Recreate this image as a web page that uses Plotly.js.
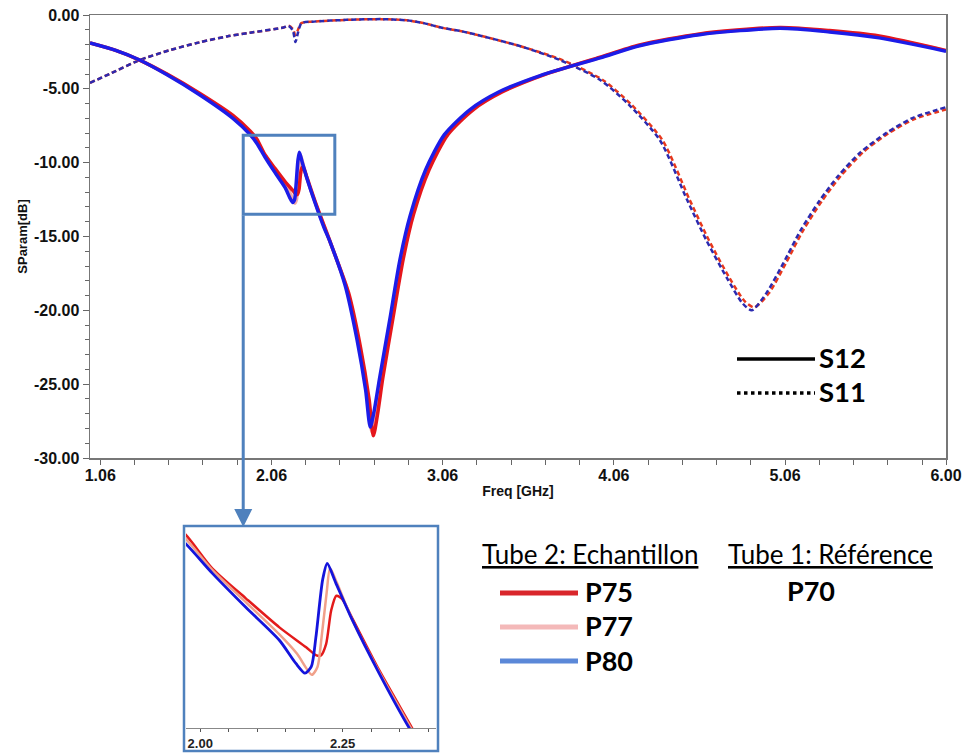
<!DOCTYPE html>
<html><head><meta charset="utf-8">
<script src="https://cdn.plot.ly/plotly-3.0.1.min.js"></script>
<style>html,body{margin:0;padding:0;background:#fff;} #chart{width:964px;height:753px;}</style>
</head><body><div id="chart"></div>
<script>
// ---- S12 (transmission), solid ----
var s12FreqP80 = [1.00,1.15,1.29,1.45,1.64,1.835,1.935,1.974,2.021,2.08,2.139,2.168,2.184,2.195,2.203,2.215,2.223,2.238,2.267,2.314,2.367,2.40,2.49,2.56,2.61,2.637,2.66,2.69,2.75,2.81,2.87,2.96,3.07,3.22,3.39,3.63,3.98,4.21,4.56,5.03,5.32,5.61,6.00];
var s12DbP80   = [-1.90,-2.40,-3.05,-4.05,-5.40,-7.00,-8.10,-8.68,-9.60,-10.66,-11.68,-12.40,-12.70,-12.50,-11.60,-9.80,-9.30,-9.90,-11.05,-12.70,-14.40,-15.30,-18.30,-22.00,-25.40,-27.90,-26.80,-24.70,-20.70,-16.60,-13.60,-10.50,-8.10,-6.40,-5.20,-4.10,-2.90,-2.08,-1.33,-0.90,-1.15,-1.55,-2.45];

var s12FreqP75 = [1.00,1.15,1.29,1.45,1.64,1.835,1.935,1.974,2.021,2.08,2.139,2.186,2.204,2.212,2.221,2.23,2.239,2.249,2.267,2.314,2.372,2.42,2.51,2.58,2.63,2.655,2.68,2.71,2.77,2.83,2.89,2.98,3.09,3.24,3.41,3.65,3.98,4.21,4.56,5.03,5.32,5.61,6.00];
var s12DbP75   = [-1.90,-2.40,-3.05,-4.00,-5.30,-6.80,-7.85,-8.40,-9.45,-10.38,-11.28,-11.90,-12.15,-12.15,-11.80,-10.75,-10.30,-10.40,-11.00,-12.60,-14.40,-15.90,-18.80,-22.50,-26.00,-28.50,-27.00,-24.60,-20.50,-16.50,-13.50,-10.50,-8.10,-6.40,-5.20,-4.05,-2.85,-2.03,-1.28,-0.84,-1.05,-1.42,-2.40];

var s12FreqP77 = [1.00,1.15,1.29,1.45,1.64,1.835,1.935,1.974,2.021,2.08,2.139,2.17,2.196,2.206,2.213,2.222,2.228,2.24,2.267,2.314,2.37,2.41,2.50,2.57,2.62,2.646,2.67,2.70,2.76,2.82,2.88,2.97,3.08,3.23,3.40,3.64,3.98,4.21,4.56,5.03,5.32,5.61,6.00];
var s12DbP77   = [-1.90,-2.40,-3.05,-4.02,-5.35,-6.90,-7.98,-8.53,-9.50,-10.50,-11.50,-12.10,-12.75,-12.50,-11.60,-10.20,-9.45,-9.90,-11.05,-12.65,-14.40,-15.60,-18.50,-22.20,-25.70,-28.20,-26.90,-24.60,-20.60,-16.50,-13.50,-10.50,-8.10,-6.40,-5.20,-4.08,-2.88,-2.06,-1.30,-0.87,-1.10,-1.48,-2.42];

// ---- S11 (reflection), dashed ----
var s11FreqP80 = [1.00,1.15,1.29,1.47,1.64,1.80,1.935,2.13,2.16,2.185,2.20,2.215,2.235,2.30,2.50,2.70,2.85,2.95,3.05,3.17,3.28,3.51,3.745,3.98,4.15,4.33,4.487,4.60,4.72,4.81,4.865,4.95,5.05,5.15,5.26,5.37,5.50,5.65,5.80,6.00];
var s11DbP80   = [-4.60,-3.80,-3.05,-2.37,-1.85,-1.45,-1.20,-0.85,-0.74,-1.05,-1.83,-1.20,-0.55,-0.45,-0.33,-0.28,-0.36,-0.55,-0.85,-1.10,-1.40,-2.10,-3.05,-4.40,-6.10,-8.50,-12.50,-15.25,-17.80,-19.50,-20.00,-18.85,-16.80,-14.60,-12.60,-10.90,-9.30,-8.00,-7.00,-6.24];

var s11FreqP75 = [1.00,1.15,1.29,1.47,1.64,1.80,1.935,2.13,2.16,2.185,2.20,2.215,2.235,2.30,2.50,2.70,2.85,2.95,3.05,3.17,3.28,3.51,3.76,3.995,4.165,4.345,4.502,4.615,4.735,4.825,4.88,4.965,5.065,5.165,5.275,5.385,5.515,5.665,5.815,6.00];
var s11DbP75   = [-4.60,-3.80,-3.05,-2.37,-1.85,-1.45,-1.20,-0.85,-0.72,-0.95,-1.36,-1.00,-0.55,-0.45,-0.33,-0.28,-0.36,-0.55,-0.85,-1.10,-1.40,-2.10,-3.05,-4.40,-6.10,-8.50,-12.50,-15.25,-17.80,-19.40,-19.80,-18.85,-16.80,-14.60,-12.60,-10.90,-9.30,-8.00,-7.05,-6.40];

// ---- axis ticks / zoom window ----
var xTickVals = [1.06,2.06,3.06,4.06,5.06,6.00];
var xTickText = ["1.06","2.06","3.06","4.06","5.06","6.00"];
var yTickVals = [0,-5,-10,-15,-20,-25,-30];
var yTickText = ["0.00","-5.00","-10.00","-15.00","-20.00","-25.00","-30.00"];
var insetTickVals = [2.00,2.25];
var insetTickText = ["2.00","2.25"];
var zoomBoxFreq = [1.895,2.43];
var zoomBoxDb = [-13.5,-8.14];
var insetRangeFreq = [1.975,2.414];
var insetRangeDb = [-14.4,-8.2];

var W = 964, H = 753;
function px(x){return x/W;}
function py(y){return 1 - y/H;}
function bold(arr){return arr.map(function(s){return '<b>'+s+'</b>';});}

var RED = '#e5161c', PINK = '#f3aaa6', BLUE = '#1c1ce8';
var RED_D = '#e8381c', BLUE_D = '#2b2ab0';

function tr(x, y, color, width, dash, xa, ya){
  return {x:x, y:y, type:'scatter', mode:'lines', xaxis:xa, yaxis:ya, showlegend:false, hoverinfo:'skip',
    line:{color:color, width:width, dash:dash||'solid', shape:'spline', smoothing:0.7}};
}

var data = [
  tr(s11FreqP75, s11DbP75, RED_D, 2.5, '5px,3px', 'x', 'y'),
  tr(s11FreqP80, s11DbP80, BLUE_D, 2.5, '5px,3px', 'x', 'y'),
  tr(s12FreqP77, s12DbP77, PINK, 3.5, 'solid', 'x', 'y'),
  tr(s12FreqP75, s12DbP75, RED, 3.5, 'solid', 'x', 'y'),
  tr(s12FreqP80, s12DbP80, BLUE, 3.5, 'solid', 'x', 'y'),
  tr(s12FreqP75, s12DbP75, '#e31a1a', 2.5, 'solid', 'x2', 'y2'),
  tr(s12FreqP77, s12DbP77, '#f0a08a', 2.5, 'solid', 'x2', 'y2'),
  tr(s12FreqP80, s12DbP80, '#1414dc', 2.8, 'solid', 'x2', 'y2')
];

var AR = '"Liberation Sans", Arial, sans-serif';
var tickFont = {family:AR, size:16, color:'#111', weight:700};

var layout = {
  width:W, height:H, margin:{l:0,r:0,t:0,b:0},
  paper_bgcolor:'#fff', plot_bgcolor:'#fff',
  font:{family:AR},
  xaxis:{domain:[px(90),px(946)], range:[1.0,6.0], anchor:'y',
    tickmode:'array', tickvals:xTickVals, ticktext:bold(xTickText), tickfont:tickFont,
    ticks:'outside', ticklen:5, tickcolor:'#666', showline:true, linecolor:'#777', linewidth:1.5, mirror:true,
    showgrid:false, zeroline:false, ticklabelstandoff:-3,
    minor:{tick0:1.06, dtick:0.2, ticks:'outside', ticklen:5, tickcolor:'#666', showgrid:false},
    title:{text:'<b>Freq [GHz]</b>', font:{family:AR, size:14, color:'#111', weight:700}, standoff:3}},
  yaxis:{domain:[py(458),py(15)], range:[-30,0], anchor:'x',
    tickmode:'array', tickvals:yTickVals, ticktext:bold(yTickText), tickfont:tickFont,
    ticks:'outside', ticklen:6, tickcolor:'#666', showline:true, linecolor:'#777', linewidth:1.5, mirror:true,
    showgrid:false, zeroline:false,
    minor:{tick0:0, dtick:1, ticks:'outside', ticklen:4, tickcolor:'#666', showgrid:false},
    title:{text:'<b>SParam[dB]</b>', font:{family:AR, size:13, color:'#111', weight:700}, standoff:3}},
  xaxis2:{domain:[px(186),px(436)], range:insetRangeFreq, anchor:'y2',
    tickmode:'array', tickvals:insetTickVals, ticktext:bold(insetTickText),
    tickfont:{family:AR, size:13, color:'#222', weight:700},
    ticks:'outside', ticklen:3, tickcolor:'#555', showline:true, linecolor:'#888', linewidth:1.2,
    showgrid:false, zeroline:false,
    minor:{tick0:2.0, dtick:0.05, ticks:'outside', ticklen:3, tickcolor:'#555', showgrid:false}},
  yaxis2:{domain:[py(728),py(528)], range:insetRangeDb, anchor:'x2', visible:false},
  shapes:[
    {type:'rect', xref:'x', yref:'y', x0:zoomBoxFreq[0], x1:zoomBoxFreq[1], y0:zoomBoxDb[0], y1:zoomBoxDb[1],
      line:{color:'#4f81bd', width:3}},
    {type:'rect', xref:'paper', yref:'paper', x0:px(184), x1:px(438), y0:py(751), y1:py(526),
      line:{color:'#4f81bd', width:2.5}},
    {type:'line', xref:'paper', yref:'paper', x0:px(500), x1:px(578), y0:py(593), y1:py(593), line:{color:'#d9262b', width:5}},
    {type:'line', xref:'paper', yref:'paper', x0:px(500), x1:px(578), y0:py(627), y1:py(627), line:{color:'#f4b9b9', width:5}},
    {type:'line', xref:'paper', yref:'paper', x0:px(500), x1:px(578), y0:py(661), y1:py(661), line:{color:'#5b88d8', width:5}},
    {type:'line', xref:'paper', yref:'paper', x0:px(737), x1:px(815), y0:py(359), y1:py(359), line:{color:'#000', width:3.5}},
    {type:'line', xref:'paper', yref:'paper', x0:px(737), x1:px(815), y0:py(393), y1:py(393), line:{color:'#000', width:3.5, dash:'dot'}}
  ],
  annotations:[
    {x:zoomBoxFreq[0], xref:'x', y:py(527), yref:'paper', ax:0, ay:-313, text:'', showarrow:true,
      arrowhead:2, arrowsize:1.2, arrowwidth:3, arrowcolor:'#4f81bd', standoff:0},
    {x:px(590), y:py(554), xref:'paper', yref:'paper', text:'<u>Tube 2: Echantillon</u>', showarrow:false,
      font:{family:'Lato, sans-serif', size:26, color:'#000'}, xanchor:'center', yanchor:'middle'},
    {x:px(830), y:py(554), xref:'paper', yref:'paper', text:'<u>Tube 1: Référence</u>', showarrow:false,
      font:{family:'Lato, sans-serif', size:26, color:'#000'}, xanchor:'center', yanchor:'middle'},
    {x:px(583), y:py(591), xref:'paper', yref:'paper', text:'<b>P75</b>', showarrow:false,
      font:{family:'Lato, sans-serif', size:27, color:'#000'}, xanchor:'left', yanchor:'middle'},
    {x:px(583), y:py(625), xref:'paper', yref:'paper', text:'<b>P77</b>', showarrow:false,
      font:{family:'Lato, sans-serif', size:27, color:'#000'}, xanchor:'left', yanchor:'middle'},
    {x:px(583), y:py(660), xref:'paper', yref:'paper', text:'<b>P80</b>', showarrow:false,
      font:{family:'Lato, sans-serif', size:27, color:'#000'}, xanchor:'left', yanchor:'middle'},
    {x:px(785), y:py(590), xref:'paper', yref:'paper', text:'<b>P70</b>', showarrow:false,
      font:{family:'Lato, sans-serif', size:27, color:'#000'}, xanchor:'left', yanchor:'middle'},
    {x:px(817), y:py(357), xref:'paper', yref:'paper', text:'<b>S12</b>', showarrow:false,
      font:{family:'Lato, sans-serif', size:27.5, color:'#000'}, xanchor:'left', yanchor:'middle'},
    {x:px(817), y:py(391), xref:'paper', yref:'paper', text:'<b>S11</b>', showarrow:false,
      font:{family:'Lato, sans-serif', size:27.5, color:'#000'}, xanchor:'left', yanchor:'middle'}
  ]
};

Plotly.newPlot('chart', data, layout, {staticPlot:true, displayModeBar:false});
</script></body></html>
